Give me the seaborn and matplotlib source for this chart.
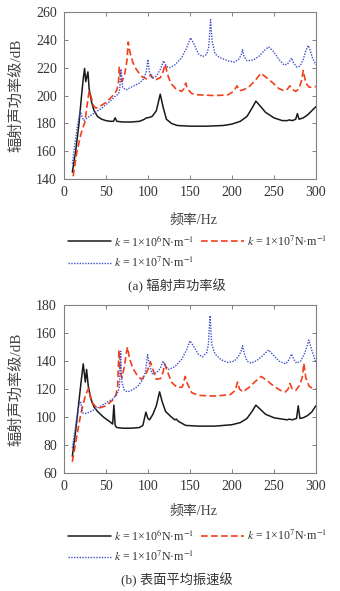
import pandas as pd
import seaborn as sns
import matplotlib.pyplot as plt

# (a) radiated sound power level
a_k6_f = [10, 14, 18, 21, 23, 24.6, 26, 28.6, 30, 33, 36, 40, 45, 50, 55, 59, 61, 63, 70, 80,
          90, 96, 98, 100, 105, 110, 114.7, 118, 122, 128, 135, 150, 170, 190, 200, 210, 218, 224, 228.6, 233,
          240, 250, 260, 266, 268, 272, 276, 278, 280, 285, 290, 295, 300]
a_k6_v = [145, 160, 180, 200, 212, 219.5, 210, 217, 205, 195, 189, 185, 183, 182, 181.5, 181.5, 184, 181.5, 181, 181,
          181.5, 183, 184, 184, 185, 189, 201, 192, 183, 180, 178.5, 178, 178, 178.5, 179.5, 181.5, 185, 191, 196, 193,
          188, 184, 182, 182, 182.5, 182, 183, 187, 183, 184, 186, 189, 192]

a_k7_f = [11, 15, 20, 25, 28, 30, 32, 35, 38, 42, 50, 55, 60, 63, 65, 66, 67, 69, 72, 75,
          76.6, 78, 79.5, 82, 86, 92, 98, 101, 103.6, 106, 110, 115, 118, 120.5, 123, 127, 133, 140, 143, 145,
          147, 152, 160, 180, 195, 202, 206, 209, 213, 220, 228, 234.5, 240, 248, 256, 262, 266, 269, 272, 276,
          280, 283, 285, 288, 292, 296, 300]
a_k7_v = [142, 158, 172, 181, 195, 203, 200, 193, 191, 192, 195, 198, 201, 204, 210, 221, 214, 210, 214, 225,
          238.5, 233, 229, 224, 219, 214, 212, 213, 215, 212, 211.5, 213, 217, 222.5, 216, 209, 205, 203, 205, 209,
          205, 201.5, 200.5, 200, 200.5, 203, 207, 203.5, 204, 206, 211, 216, 213.5, 209.5, 205, 203.5, 204.5, 207, 204.5, 203,
          205, 211, 218, 209, 206, 206, 206.5]

a_k7b_f = [10, 13, 16, 19.4, 21, 23.4, 28, 35, 45, 55, 62, 65, 66.5, 68, 70, 74, 80, 90, 95, 98,
           100, 102, 105, 110, 115, 118.6, 122, 126, 132, 140, 146, 150.8, 155, 160, 165, 170, 172.5, 174.6, 176.5, 180,
           185, 195, 203, 208, 211, 212.7, 214.5, 218, 225, 232, 238, 243.6, 249, 256, 262, 266, 269, 271, 273, 277,
           281, 285, 288, 290.8, 293, 296, 300]
a_k7b_v = [151, 165, 178, 189, 186, 182, 184, 187, 191, 196, 200, 201, 205, 219, 206, 204, 206, 209, 212, 217,
           226, 216, 212.5, 214, 219, 225, 221, 220, 222, 227, 234, 241.5, 237, 230, 228, 229.5, 235, 254.5, 239, 230,
           227.5, 225, 224, 226, 229, 233, 228, 225, 225.5, 228, 232, 235, 232, 226, 222, 222.5, 225, 227, 224, 220.5,
           221, 226, 232, 236, 233, 227, 222]

# (b) mean surface vibration velocity level
b_k6_f = [10, 14, 18, 21, 23, 25.5, 27, 29, 32, 36, 40, 47, 55, 58, 59.5, 61, 63, 70, 80, 90,
          94, 97.6, 100, 102, 106, 110, 113.9, 117, 121, 127, 132, 134, 136, 145, 160, 180, 200, 210, 218, 224,
          228.6, 233, 240, 250, 260, 266, 268, 272, 277, 279, 281, 285, 290, 295, 300]
b_k6_v = [72, 90, 112, 128, 138, 125, 134, 122, 113, 107, 104, 100, 96.5, 95, 108.5, 94, 92.5, 92, 92, 92.5,
          94, 103.5, 99, 98, 102, 108, 118, 111, 104, 100.5, 98, 98.5, 97, 94, 93.5, 93.5, 94.5, 96, 99, 104,
          108.5, 106, 102, 99.5, 98.5, 98, 98.5, 98, 99, 108, 99, 99.5, 101, 103.5, 108]

b_k7_f = [10, 15, 20, 25, 28, 29.5, 31, 34, 40, 50, 58, 62, 64, 65.5, 67, 69, 72, 74, 75.8, 78,
          82, 87, 92, 97, 100, 103, 106, 110, 115, 118, 120, 123, 128, 135, 141, 144.4, 147, 152, 160, 180,
          198, 204, 206.8, 209, 213, 220, 228, 235, 242, 250, 258, 264, 267, 269, 272, 276, 281, 284, 285.7, 288,
          292, 296, 300]
b_k7_v = [68, 85, 102, 114, 119, 120.5, 116, 110, 106, 108, 112, 116, 122, 148, 133, 128, 136, 145, 150, 142,
          135, 130, 127, 130, 134, 139.5, 134, 127, 127.5, 132, 138, 133, 125, 121, 121.5, 129, 124, 117.5, 115.5, 115,
          116, 119, 125, 120, 118, 121, 125.5, 129, 126, 122, 119, 118, 120, 124, 120, 119, 123, 129, 138.5, 128,
          122, 120.5, 120]

b_k7b_f = [10, 13, 16, 18, 20, 22, 26, 32, 40, 50, 58, 63, 66, 67.5, 69, 72, 76, 82, 88, 94,
           97, 99.6, 102, 105, 110, 115, 118, 121, 125, 132, 140, 146, 150, 154, 160, 165, 170, 172, 174, 176,
           180, 187, 195, 203, 208, 211, 212.7, 214.5, 218, 223, 230, 237, 243.7, 249, 256, 264, 268, 271, 274, 277,
           282, 287, 291.7, 295, 300]
b_k7b_v = [78, 90, 102, 109, 111, 103, 102.5, 104, 106.5, 110, 113, 116, 121, 147, 125, 119, 118, 119.5, 122, 127,
           132, 144.5, 137, 131, 131.5, 135, 140, 136.5, 134, 136, 141, 148, 154.5, 151, 145, 143, 146, 152, 172.5, 152,
           145, 141, 139, 140, 143.5, 147, 151, 146, 140, 138.5, 140.5, 144, 148, 144.5, 140, 138, 141, 145, 141, 138.5,
           140, 146, 155, 148, 139]

labels = [r'$k$ = 1×10$^{6}$N·m$^{-1}$', r'$k$ = 1×10$^{7}$N·m$^{-1}$', r'$k$ = 1×10$^{7}$N·m$^{-1}$']
xticks = [0, 50, 100, 150, 200, 250, 300]

sns.set_theme(style='ticks')
fonts = ['Liberation Serif', 'Noto Sans CJK SC']
plt.rcParams['font.family'] = fonts
plt.rcParams['mathtext.fontset'] = 'stix'
plt.rcParams['axes.unicode_minus'] = False

BLACK = '#1a1a1a'
RED = '#f2401c'
BLUE = '#4050c8'
GREY = '#808080'


def draw_panel(ax, series, ylim, yticks):
    styles = [dict(color=BLACK, linewidth=1.1),
              dict(color=RED, linewidth=1.2, dashes=(4, 2)),
              dict(color=BLUE, linewidth=1.0, dashes=(1, 1))]
    handles = []
    for (f, v), lab, st in zip(series, labels, styles):
        df = pd.DataFrame({'f': f, 'v': v})
        sns.lineplot(data=df, x='f', y='v', ax=ax, label=lab, legend=False, **st)
        handles.append(ax.lines[-1])
    ax.set_xlim(0, 300)
    ax.set_ylim(*ylim)
    ax.set_xticks(xticks)
    ax.set_yticks(yticks)
    ax.set_xlabel('')
    ax.set_ylabel('')
    for s in ax.spines.values():
        s.set_color(GREY)
        s.set_linewidth(0.8)
    ax.tick_params(direction='in', length=3, width=0.7, color=GREY, top=True, right=True,
                   labelsize=10, labelcolor='#333333', pad=5)
    # column-first fill: black, blue in column 1, red in column 2
    ax.legend([handles[0], handles[2], handles[1]], [labels[0], labels[2], labels[1]],
              loc='upper left', bbox_to_anchor=(-0.025, -0.262), ncol=2, frameon=False,
              handlelength=3.6, handletextpad=0.25, columnspacing=0.55, labelspacing=0.62,
              prop={'family': fonts, 'size': 8.6}, labelcolor='#333333')


fig = plt.figure(figsize=(3.4, 5.91), dpi=100)
ax1 = fig.add_axes([0.188, 0.697, 0.741, 0.2826])
ax2 = fig.add_axes([0.188, 0.1997, 0.741, 0.284])

draw_panel(ax1, [(a_k6_f, a_k6_v), (a_k7_f, a_k7_v), (a_k7b_f, a_k7b_v)], (140, 260), range(140, 261, 20))
draw_panel(ax2, [(b_k6_f, b_k6_v), (b_k7_f, b_k7_v), (b_k7b_f, b_k7b_v)], (60, 180), range(60, 181, 20))

for yc in (0.838, 0.342):
    fig.text(0.047, yc, '辐射声功率级/dB', rotation=90, ha='center', va='center',
             fontsize=11, color='#444444', family=fonts)
fig.text(0.57, 0.628, '频率/Hz', ha='center', va='center', fontsize=10, color='#444444', family=fonts)
fig.text(0.57, 0.135, '频率/Hz', ha='center', va='center', fontsize=10, color='#444444', family=fonts)
fig.text(0.52, 0.516, '(a) 辐射声功率级', ha='center', va='center', fontsize=9.5, color='#333333', family=fonts)
fig.text(0.52, 0.019, '(b) 表面平均振速级', ha='center', va='center', fontsize=9.5, color='#333333', family=fonts)

fig.savefig('out.png', dpi=100)
plt.close(fig)
